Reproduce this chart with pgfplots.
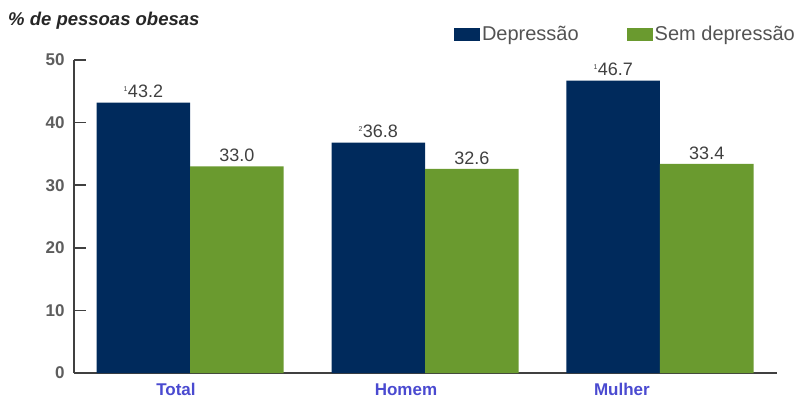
\documentclass[border=0pt]{standalone}
\usepackage{pgfplots}
\pgfplotsset{compat=1.18}
\usepackage{fontspec}
\setmainfont{Liberation Sans}
\definecolor{navy}{HTML}{002A5C}
\definecolor{grn}{HTML}{6A9A2F}
\definecolor{lblue}{HTML}{4A4AD0}
\definecolor{tgray}{HTML}{404040}
\begin{document}
\begin{tikzpicture}[x=1pt,y=1pt]
\path[use as bounding box] (0,0) rectangle (806,400);
\begin{axis}[
  at={(74pt,27pt)}, anchor=south west,
  scale only axis, width=703pt, height=313pt,
  xmin=-0.494, xmax=2.498, ymin=0, ymax=50,
  axis x line=bottom, axis y line=left,
  axis line style={-, draw=tgray, line width=1.8pt},
  ytick={0,10,20,30,40,50},
  ytick style={draw=tgray, line width=1.6pt},
  major tick length=12pt,
  tick align=inside,
  yticklabel style={font=\fontsize{17}{17}\selectfont\bfseries, text=tgray!85, xshift=-6pt},
  /pgf/number format/assume math mode=true,
  xtick={-0.06,0.919,1.838},
  xticklabels={Total,Homem,\raisebox{-3pt}{Mulher}},
  xtick style={draw=none},
  xticklabel style={font=\fontsize{17}{17}\selectfont\bfseries, text=lblue, yshift=5pt},
  ybar, bar width=0.398,
  clip=false,
  nodes near coords,
  point meta=explicit symbolic,
  every node near coord/.append style={font=\fontsize{18}{18}\selectfont, text=tgray, yshift=1pt},
  legend columns=2,
  legend style={draw=none, fill=none, at={(0.536,1.083)}, anchor=west,
    font=\fontsize{20}{20}\selectfont, text=tgray!90,
    /tikz/every even column/.append style={column sep=46pt}},
  legend image code/.code={\fill[#1] (0pt,-6.5pt) rectangle (26pt,6.5pt);},
]
\addplot[fill=navy, draw=none, bar shift=-0.199] coordinates {
  (0,43.2) [\textsuperscript{\scriptsize 1}43.2]
  (1,36.8) [\textsuperscript{\scriptsize 2}36.8]
  (2,46.7) [\textsuperscript{\scriptsize 1}46.7]
};
\addlegendentry{Depressão}
\addplot[fill=grn, draw=none, bar shift=0.199] coordinates {
  (0,33.0) [33.0]
  (1,32.6) [32.6]
  (2,33.4) [33.4]
};
\addlegendentry{Sem depressão}
\end{axis}
\node[anchor=west, font=\fontsize{18.5}{18.5}\selectfont\bfseries\itshape, text=black!85, inner sep=0pt] at (8,379) {\% de pessoas obesas};
\end{tikzpicture}
\end{document}
